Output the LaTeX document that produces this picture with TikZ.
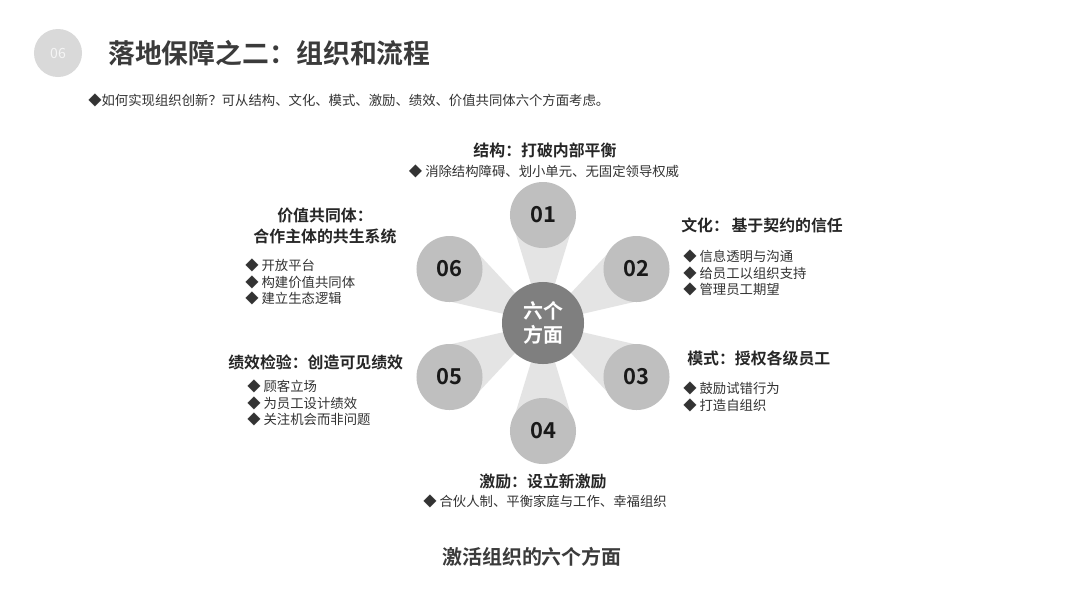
\documentclass[tikz,border=0pt]{standalone}
\usepackage{fontspec}
\setmainfont{Noto Sans CJK SC}[BoldFont={Noto Sans CJK SC Bold}]
\usepackage{xcolor}
\usetikzlibrary{calc,backgrounds}
\definecolor{ink}{HTML}{333333}
\definecolor{headink}{HTML}{262626}
\definecolor{titleink}{HTML}{3B3B3B}
\definecolor{ringgray}{HTML}{BFBFBF}
\definecolor{hubgray}{HTML}{7F7F7F}
\definecolor{beamgray}{HTML}{E4E4E4}
\definecolor{blobgray}{HTML}{D9D9D9}

\begin{document}
\begin{tikzpicture}[
  x=0.025cm, y=-0.025cm,
  hd/.style ={font=\fontsize{11.3}{15.6}\selectfont\bfseries, text=headink, inner sep=0pt, align=center},
  bl/.style ={font=\fontsize{9.5}{11.7}\selectfont, text=ink, inner sep=0pt, align=left},
  hub/.style={circle, fill=hubgray, minimum size=2.05cm, inner sep=0pt, align=center,
              text=white, font=\fontsize{14.2}{17.5}\selectfont\bfseries},
  ring/.style={circle, fill=ringgray, minimum size=1.65cm, inner sep=0pt,
              text=black!90, font=\fontsize{15.6}{18}\selectfont\bfseries},
  beam/.style={fill=beamgray}
]
\useasboundingbox (0,0) rectangle (1080,608);

% =============== header ===============
\node[circle, fill=blobgray, minimum size=1.2cm, inner sep=0pt, text=white!92!gray,
      font=\fontsize{10}{12}\selectfont] (badge) at (58,53) {06};
\node[anchor=west, inner sep=0pt, text=titleink, font=\fontsize{19.1}{23}\selectfont\bfseries]
  (title) at (108,53) {落地保障之二：组织和流程};
\node[anchor=west, inner sep=0pt, text=ink, font=\fontsize{9.5}{12}\selectfont]
  (intro) at (88,100) {◆如何实现组织创新？可从结构、文化、模式、激励、绩效、价值共同体六个方面考虑。};

% =============== wheel ===============
% six rings on a hexagon of radius 108px round the hub
\node[ring] (c01) at (543,215)   {01};
\node[ring] (c02) at (636.5,269) {02};
\node[ring] (c03) at (636.5,377) {03};
\node[ring] (c04) at (543,431)   {04};
\node[ring] (c05) at (449.5,377) {05};
\node[ring] (c06) at (449.5,269) {06};
\node[hub]  (hub) at (543,323)   {六个\\方面};

% light fans from the hub out to each ring, kept behind the circles
\begin{scope}[on background layer]
\fill[white] (0,0) rectangle (1080,608);
\fill[beam] (hub.center) -- ($(hub.center)!1!17:(c01.center)$) -- ($(hub.center)!1!-17:(c01.center)$) -- cycle;
\fill[beam] (hub.center) -- ($(hub.center)!1!17:(c02.center)$) -- ($(hub.center)!1!-17:(c02.center)$) -- cycle;
\fill[beam] (hub.center) -- ($(hub.center)!1!17:(c03.center)$) -- ($(hub.center)!1!-17:(c03.center)$) -- cycle;
\fill[beam] (hub.center) -- ($(hub.center)!1!17:(c04.center)$) -- ($(hub.center)!1!-17:(c04.center)$) -- cycle;
\fill[beam] (hub.center) -- ($(hub.center)!1!17:(c05.center)$) -- ($(hub.center)!1!-17:(c05.center)$) -- cycle;
\fill[beam] (hub.center) -- ($(hub.center)!1!17:(c06.center)$) -- ($(hub.center)!1!-17:(c06.center)$) -- cycle;
\end{scope}

% =============== labels ===============
\node[hd] (h01) at (545,150) {结构：打破内部平衡};
\node[bl] (b01) at (544,171) {◆ 消除结构障碍、划小单元、无固定领导权威};

\node[hd, anchor=west] (h02) at (681,225) {文化：\,基于契约的信任};
\node[bl, anchor=west] (b02) at (683,273) {◆ 信息透明与沟通\\◆ 给员工以组织支持\\◆ 管理员工期望};

\node[hd, anchor=west] (h03) at (687,358) {模式：授权各级员工};
\node[bl, anchor=west] (b03) at (683,397) {◆ 鼓励试错行为\\◆ 打造自组织};

\node[hd] (h04) at (543,481) {激励：设立新激励};
\node[bl] (b04) at (545,501) {◆ 合伙人制、平衡家庭与工作、幸福组织};

\node[hd, anchor=west] (h05) at (228,362) {绩效检验：创造可见绩效};
\node[bl, anchor=west] (b05) at (247,403) {◆ 顾客立场\\◆ 为员工设计绩效\\◆ 关注机会而非问题};

\node[hd] (h06) at (325,226) {价值共同体：\\合作主体的共生系统};
\node[bl, anchor=west] (b06) at (245,282) {◆ 开放平台\\◆ 构建价值共同体\\◆ 建立生态逻辑};

% =============== caption ===============
\node[inner sep=0pt, text=titleink, font=\fontsize{14.2}{17}\selectfont\bfseries]
  (cap) at (532,557) {激活组织的六个方面};
\end{tikzpicture}
\end{document}
